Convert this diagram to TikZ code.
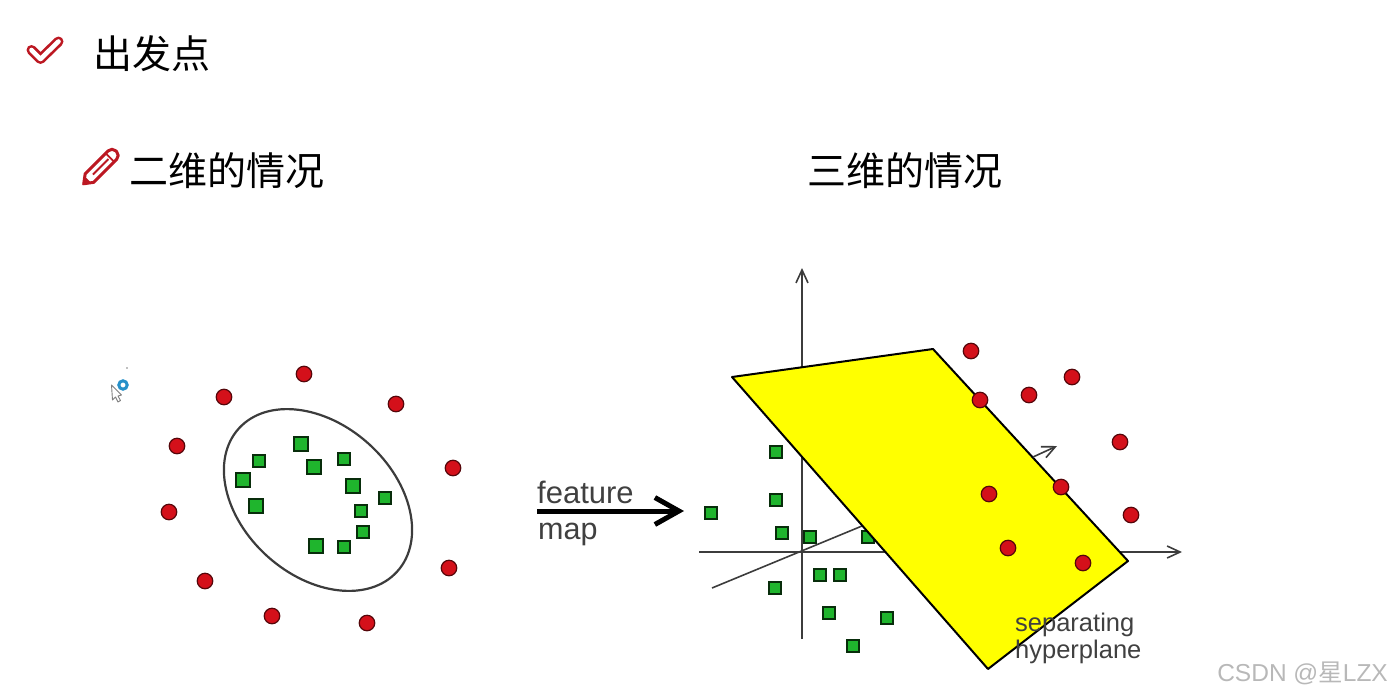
\documentclass[tikz,border=0pt]{standalone}
\usepackage{fontspec}
\setmainfont{Liberation Sans}
\newfontfamily\cjk{Noto Sans CJK SC}
\usetikzlibrary{arrows.meta}
\definecolor{iconred}{HTML}{BC1822}
\definecolor{dotred}{HTML}{D4101A}
\definecolor{boxgreen}{HTML}{1FB52D}
\definecolor{axisgray}{HTML}{3C3C3C}
\definecolor{planeyellow}{HTML}{FFFF00}
\tikzset{
  reddot/.style={circle,fill=dotred,draw=black!60!dotred,line width=1.2pt,minimum size=15.5pt,inner sep=0pt},
  greenbox/.style={rectangle,fill=boxgreen,draw=black!75!boxgreen,line width=1.2pt,minimum size=#1,inner sep=0pt},
  greenbox/.default=12pt,
  heading/.style={font=\cjk\fontsize{39}{39}\selectfont,anchor=west,inner sep=0pt},
  figlabel/.style={font=\fontsize{#1}{#1}\selectfont,text=black!75,anchor=west,inner sep=0pt},
  axisline/.style={draw=axisgray,line width=1.6pt,-{Straight Barb[length=13pt,width=12pt]}}
}
\begin{document}
\begin{tikzpicture}[x=1pt,y=-1pt]
\useasboundingbox (0,0) rectangle (1390,697);
% Headings and the two icons
\draw[iconred,line width=10pt,line cap=round,line join=round] (31.5,50) -- (40.5,59) -- (58.5,41.5);
\draw[white,line width=4.6pt,line cap=round,line join=round] (31.5,50) -- (40.5,59) -- (58.5,41.5);
\node[heading] (start) at (93,54) {出发点};
\begin{scope}[shift={(100,167.5)},rotate=45]
\draw[iconred,line width=3pt,fill=white,line join=round] (-15,-6) [rounded corners=5.5pt] -- (23,-6) -- (23,6) [sharp corners] -- (-15,6) -- (-23,0) -- cycle;
\fill[iconred] (-25,0) -- (-17,-5) -- (-17,5) -- cycle;
\draw[iconred,line width=1.8pt] (-10,0) -- (12,0) (14,-6) -- (14,6);
\end{scope}
\node[heading] (two) at (129,171) {二维的情况};
\node[heading] (three) at (807,171) {三维的情况};
% Cursor
\draw[gray,fill=white,line width=0.9pt,line join=round] (111.5,385) -- (112.5,400) -- (115.5,397) -- (118,402) -- (120.5,400.5) -- (118,396) -- (121.5,395) -- cycle;
\draw[blue!35!cyan!75!black!85,line width=3pt] (123,385) circle (4.2);
\fill[gray] (127,368) circle (0.8);
% Left panel
\draw[axisgray,line width=2.2pt] (318,500) [rotate around={-42:(318,500)}] ellipse [x radius=106.7,y radius=75.7];
\foreach \i/\px/\py in {1/304/374,2/224/397,3/396/404,4/177/446,5/453/468,6/169/512,7/449/568,8/205/581,9/272/616,10/367/623} {
\node[reddot] (lred\i) at (\px,\py) {};
}
\foreach \i/\px/\py/\sz in {1/301/444/14pt,2/259/461/12pt,3/344/459/12pt,4/314/467/14pt,5/243/480/14pt,6/353/486/14pt,7/385/498/12pt,8/256/506/14pt,9/361/511/12pt,10/363/532/12pt,11/316/546/14pt,12/344/547/12pt} {
\node[greenbox=\sz] (lgreen\i) at (\px,\py) {};
}
% Feature map arrow
\coordinate (mapa) at (537,511);
\coordinate (mapb) at (684,511);
\draw[line width=5pt,-{Straight Barb[length=24pt,width=27pt]}] (mapa) -- (mapb);
\node[figlabel=31] (feature) at (537,492) {feature};
\node[figlabel=30.5] (maplabel) at (538,534) {map};
% Right panel: axes and hidden box first, the plane goes over them
\coordinate (ya) at (802,639);
\coordinate (yb) at (802,268);
\coordinate (xa) at (699,552);
\coordinate (xb) at (1182,552);
\coordinate (za) at (712,588);
\coordinate (zb) at (862,526);
\draw[axisline] (ya) -- (yb);
\draw[axisline] (xa) -- (xb);
\draw[axisgray,line width=1.6pt] (za) -- (zb);
\node[greenbox] (rgreen6) at (868,537) {};
\coordinate (pa) at (732,377);
\coordinate (pb) at (933,349);
\coordinate (pc) at (1128,561);
\coordinate (pd) at (988,669);
\draw[fill=planeyellow,line width=2pt,line join=round] (pa) -- (pb) -- (pc) -- (pd) -- cycle;
\coordinate (na) at (1033,457);
\coordinate (nb) at (1057,446);
\draw[axisline,line width=1.6pt] (na) -- (nb);
\foreach \i/\px/\py in {1/776/452,2/776/500,3/711/513,4/782/533,5/810/537,7/820/575,8/840/575,9/775/588,10/829/613,11/887/618,12/853/646} {
\node[greenbox] (rgreen\i) at (\px,\py) {};
}
\foreach \i/\px/\py in {1/971/351,2/1072/377,3/1029/395,4/980/400,5/1120/442,6/1061/487,7/989/494,8/1131/515,9/1008/548,10/1083/563} {
\node[reddot] (rred\i) at (\px,\py) {};
}
\node[figlabel=25.5] (separating) at (1015,625) {separating};
\node[figlabel=25.5] (hyperplane) at (1015,652) {hyperplane};
% Watermark
\node[anchor=east,inner sep=0pt,text=black!28,font=\fontsize{24.5}{24.5}\selectfont] (mark) at (1388,673) {CSDN @{\cjk 星}LZX};
\end{tikzpicture}
\end{document}
